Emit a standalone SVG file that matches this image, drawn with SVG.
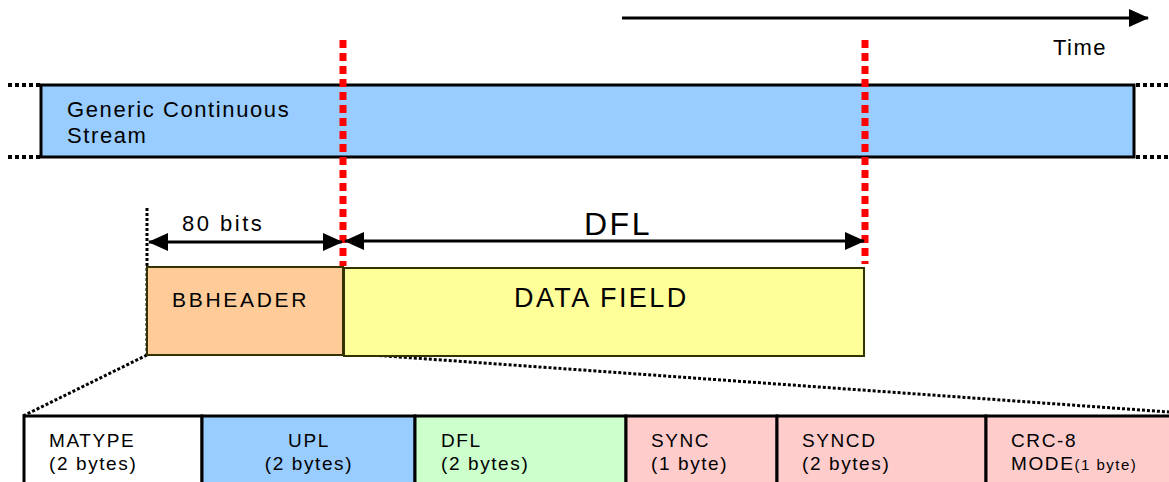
<svg xmlns="http://www.w3.org/2000/svg" width="1169" height="482" viewBox="0 0 1169 482">
<defs>
<marker id="ah" markerWidth="20" markerHeight="18" refX="19" refY="9" orient="auto-start-reverse" markerUnits="userSpaceOnUse">
<path d="M0,0 L20,9 L0,18 Z" fill="#000"/>
</marker>
<style>
text{font-family:"Liberation Sans",Arial,sans-serif;fill:#000}
.dot{stroke:#000;stroke-width:4;stroke-dasharray:4 3;fill:none}
.dotthin{stroke:#000;stroke-width:3;stroke-dasharray:3 2;fill:none}
.red{stroke:#ff0000;stroke-width:7;stroke-dasharray:8 5;fill:none}
.arrow{stroke:#000;stroke-width:3;fill:none}
.cell{stroke:#000;stroke-width:3}
.t{font-size:19px;letter-spacing:1.6px}
</style>
</defs>
<g id="connectors">
<line class="arrow" x1="622" y1="18" x2="1148" y2="18" marker-end="url(#ah)"/>
<line class="dot" x1="8" y1="85" x2="40" y2="85"/>
<line class="dot" x1="8" y1="157" x2="40" y2="157"/>
<line class="dot" x1="1136" y1="85" x2="1169" y2="85"/>
<line class="dot" x1="1136" y1="157" x2="1169" y2="157"/>
<line class="dotthin" x1="147" y1="208" x2="147" y2="356"/>
<line class="dotthin" x1="147" y1="355" x2="23" y2="416"/>
<line class="dotthin" x1="344" y1="353" x2="1169" y2="412"/>
</g>
<g id="stream">
<rect x="41" y="85" width="1093" height="72" fill="#99ccff" stroke="#000" stroke-width="3"/>
<text x="67" y="117" font-size="22" letter-spacing="1.6">Generic Continuous</text>
<text x="67" y="143" font-size="22" letter-spacing="1.6">Stream</text>
</g>
<text x="1053" y="55" font-size="22" letter-spacing="1.5">Time</text>
<g id="bbheader">
<rect x="147" y="267" width="196" height="88" fill="#ffcc99" stroke="#333300" stroke-width="2"/>
<text x="172" y="307" font-size="21" letter-spacing="2.7">BBHEADER</text>
</g>
<g id="datafield">
<rect x="344" y="268" width="520" height="88" fill="#ffff99" stroke="#333300" stroke-width="2"/>
<text x="514" y="307" font-size="27" letter-spacing="2.4">DATA FIELD</text>
</g>
<g id="markers">
<line class="red" x1="343" y1="40" x2="343" y2="266"/>
<line class="red" x1="865" y1="40" x2="865" y2="264"/>
</g>
<g id="dims">
<line class="arrow" x1="149" y1="242" x2="342" y2="242" marker-start="url(#ah)" marker-end="url(#ah)"/>
<text x="182" y="231" font-size="22" letter-spacing="2.5">80 bits</text>
<line class="arrow" x1="345" y1="241" x2="864" y2="241" marker-start="url(#ah)" marker-end="url(#ah)"/>
<text x="584" y="235" font-size="32" letter-spacing="2.5">DFL</text>
</g>
<g id="fields">
<g id="f-matype"><rect class="cell" x="24" y="416" width="178" height="70" fill="#fff"/>
<text class="t" x="49" y="447">MATYPE</text><text class="t" x="49" y="470">(2 bytes)</text></g>
<g id="f-upl"><rect class="cell" x="202" y="416" width="213" height="70" fill="#99ccff"/>
<text class="t" x="309" y="447" text-anchor="middle">UPL</text><text class="t" x="309" y="470" text-anchor="middle">(2 bytes)</text></g>
<g id="f-dfl"><rect class="cell" x="415" y="416" width="211" height="70" fill="#ccffcc"/>
<text class="t" x="441" y="447">DFL</text><text class="t" x="441" y="470">(2 bytes)</text></g>
<g id="f-sync"><rect class="cell" x="626" y="416" width="151" height="70" fill="#ffcccc"/>
<text class="t" x="651" y="447">SYNC</text><text class="t" x="651" y="470">(1 byte)</text></g>
<g id="f-syncd"><rect class="cell" x="777" y="416" width="209" height="70" fill="#ffcccc"/>
<text class="t" x="802" y="447">SYNCD</text><text class="t" x="802" y="470">(2 bytes)</text></g>
<g id="f-crc"><rect class="cell" x="986" y="416" width="190" height="70" fill="#ffcccc"/>
<text class="t" x="1011" y="447">CRC-8</text><text class="t" x="1011" y="470">MODE<tspan font-size="15" letter-spacing="1.5">(1 byte)</tspan></text></g>
</g>
</svg>
